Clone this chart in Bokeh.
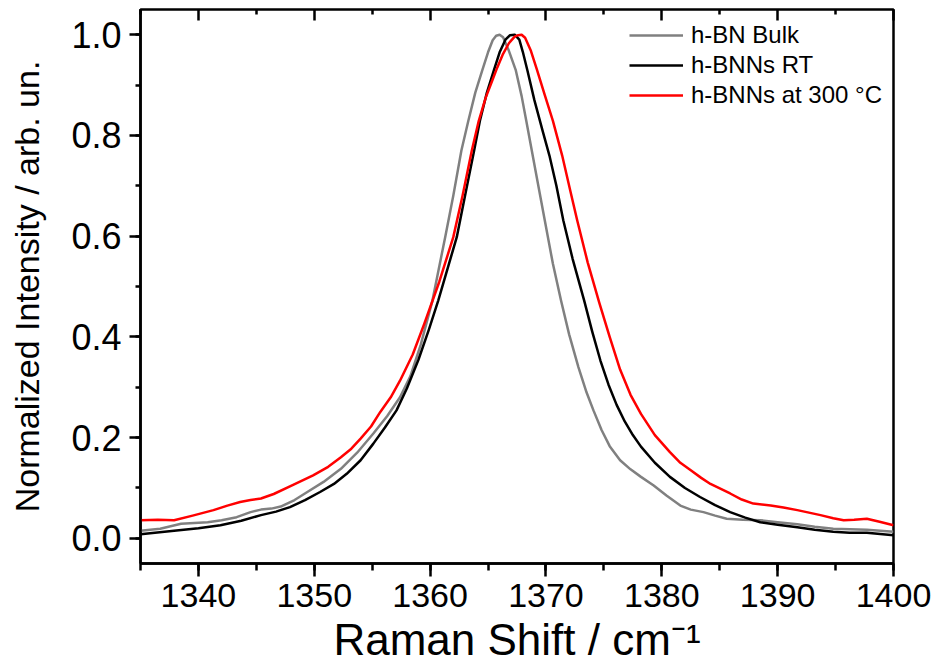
from bokeh.plotting import figure
from bokeh.models import (Range1d, LinearAxis, SingleIntervalTicker, FixedTicker,
                          PrintfTickFormatter, Legend, LegendItem)
from bokeh.embed import file_html
from bokeh.resources import INLINE

# ---------------- data ----------------
bulk_x = [1335.0, 1336.7, 1338.5, 1340.8, 1342.0, 1343.3, 1344.5, 1345.4, 1346.3, 1347.1,
          1348.3, 1349.4, 1350.8, 1352.3, 1353.7, 1355.1, 1356.3, 1357.4, 1358.3, 1359.2,
          1360.2, 1361.3, 1362.0, 1362.7, 1363.3, 1363.9, 1364.5, 1365.0, 1365.4, 1365.7,
          1366.0, 1366.3, 1366.8, 1367.4, 1367.9, 1368.3, 1369.1, 1369.9, 1370.6, 1371.3,
          1372.0, 1372.8, 1373.5, 1374.1, 1374.8, 1375.5, 1376.4, 1377.3, 1378.2, 1379.3,
          1380.4, 1381.6, 1382.5, 1383.6, 1384.6, 1385.6, 1387.0, 1388.5, 1390.0, 1391.7,
          1393.2, 1394.8, 1397.7, 1400.0]
bulk_y = [0.015, 0.019, 0.029, 0.032, 0.036, 0.042, 0.052, 0.057, 0.059, 0.063,
          0.076, 0.092, 0.112, 0.138, 0.170, 0.208, 0.243, 0.280, 0.322, 0.385,
          0.472, 0.598, 0.680, 0.770, 0.829, 0.885, 0.929, 0.965, 0.989, 0.998,
          1.000, 0.995, 0.968, 0.929, 0.878, 0.829, 0.730, 0.631, 0.545, 0.472,
          0.405, 0.340, 0.290, 0.254, 0.215, 0.183, 0.155, 0.137, 0.122, 0.105,
          0.085, 0.065, 0.057, 0.052, 0.045, 0.039, 0.037, 0.036, 0.032, 0.028,
          0.023, 0.019, 0.017, 0.013]

rt_x = [1335.0, 1337.9, 1340.0, 1341.9, 1343.7, 1345.4, 1346.7, 1347.9, 1349.2, 1350.5,
        1351.7, 1352.8, 1354.0, 1355.1, 1356.1, 1357.1, 1358.0, 1359.0, 1359.9, 1360.7,
        1361.5, 1362.3, 1363.1, 1363.8, 1364.3, 1364.9, 1365.5, 1366.0, 1366.5, 1366.9,
        1367.3, 1367.7, 1368.0, 1368.4, 1369.0, 1369.7, 1370.3, 1370.9, 1371.5, 1372.3,
        1373.3, 1374.0, 1374.7, 1375.4, 1376.1, 1376.8, 1377.5, 1378.2, 1379.4, 1380.7,
        1382.0, 1383.3, 1384.6, 1385.9, 1387.2, 1388.5, 1390.0, 1391.7, 1393.2, 1394.8,
        1396.2, 1397.7, 1400.0]
rt_y = [0.008, 0.015, 0.020, 0.026, 0.035, 0.046, 0.053, 0.062, 0.076, 0.092,
        0.108, 0.128, 0.155, 0.188, 0.220, 0.254, 0.298, 0.355, 0.415, 0.472,
        0.535, 0.598, 0.690, 0.770, 0.829, 0.885, 0.929, 0.965, 0.990, 0.999,
        1.000, 0.990, 0.966, 0.929, 0.870, 0.810, 0.760, 0.700, 0.631, 0.555,
        0.472, 0.410, 0.353, 0.305, 0.265, 0.232, 0.205, 0.182, 0.150, 0.122,
        0.100, 0.082, 0.066, 0.052, 0.041, 0.032, 0.027, 0.022, 0.017, 0.013,
        0.011, 0.011, 0.006]

ht_x = [1335.0, 1336.5, 1337.9, 1339.5, 1341.3, 1342.5, 1343.6, 1344.5, 1345.4, 1346.5,
        1347.9, 1349.9, 1351.2, 1352.3, 1353.2, 1354.0, 1354.9, 1355.7, 1356.6, 1357.4,
        1358.5, 1359.5, 1360.8, 1362.0, 1362.8, 1363.6, 1364.2, 1364.8, 1365.3, 1365.8,
        1366.3, 1366.8, 1367.3, 1367.6, 1367.9, 1368.2, 1368.7, 1369.2, 1369.9, 1370.6,
        1371.4, 1372.1, 1372.7, 1373.6, 1374.6, 1375.5, 1376.4, 1377.3, 1378.2, 1379.4,
        1380.7, 1381.6, 1382.5, 1383.4, 1384.2, 1385.9, 1386.9, 1387.9, 1389.4, 1390.5,
        1391.7, 1393.7, 1394.8, 1395.7, 1396.6, 1397.7, 1398.8, 1400.0]
ht_y = [0.036, 0.037, 0.036, 0.045, 0.056, 0.065, 0.072, 0.076, 0.079, 0.088,
        0.103, 0.125, 0.142, 0.161, 0.178, 0.198, 0.222, 0.251, 0.280, 0.313,
        0.365, 0.426, 0.510, 0.598, 0.680, 0.770, 0.829, 0.875, 0.905, 0.935,
        0.962, 0.983, 0.996, 0.999, 1.000, 0.994, 0.968, 0.932, 0.880, 0.829,
        0.760, 0.690, 0.631, 0.548, 0.468, 0.400, 0.335, 0.285, 0.247, 0.205,
        0.171, 0.150, 0.135, 0.120, 0.108, 0.089, 0.077, 0.069, 0.065, 0.061,
        0.056, 0.046, 0.040, 0.036, 0.037, 0.039, 0.033, 0.026]

series_labels = ["h-BN Bulk", "h-BNNs RT", "h-BNNs at 300 \u00b0C"]
series_colors = ["#808080", "#000000", "#ff0000"]

x_major_ticks = [1340, 1350, 1360, 1370, 1380, 1390, 1400]
x_minor_ticks = [1335, 1345, 1355, 1365, 1375, 1385, 1395]

x_title = "Raman Shift / cm\u207b\u00b9"
y_title = "Normalized Intensity / arb. un."

FONT = "Liberation Sans"

# ---------------- figure ----------------
p = figure(width=940, height=666, output_backend="svg", toolbar_location=None,
           x_range=Range1d(1335, 1400), y_range=Range1d(-0.05, 1.05),
           min_border_left=140, min_border_right=47, min_border_top=9, min_border_bottom=0)
p.xgrid.visible = False
p.ygrid.visible = False
p.outline_line_color = "black"
p.outline_line_width = 2.5
p.background_fill_color = "white"
p.border_fill_color = "white"

xt = SingleIntervalTicker(interval=10, num_minor_ticks=2)
yt = SingleIntervalTicker(interval=0.2, num_minor_ticks=2)

xa = p.xaxis[0]
xa.ticker = xt
xa.axis_line_width = 2.5
xa.major_tick_line_width = 2.5
xa.minor_tick_line_width = 2.5
xa.major_tick_out = 13
xa.major_tick_in = 0
xa.minor_tick_out = 7
xa.minor_tick_in = 0
xa.major_label_text_font = FONT
xa.major_label_text_font_size = "34px"
xa.major_label_text_color = "black"
xa.major_label_standoff = 7
xa.axis_label = x_title
xa.axis_label_text_font = FONT
xa.axis_label_text_font_size = "44px"
xa.axis_label_text_font_style = "normal"
xa.axis_label_text_color = "black"
xa.axis_label_standoff = 5

ya = p.yaxis[0]
ya.ticker = yt
ya.formatter = PrintfTickFormatter(format="%.1f")
ya.axis_line_width = 2.5
ya.major_tick_line_width = 2.5
ya.minor_tick_line_width = 2.5
ya.major_tick_out = 11
ya.major_tick_in = 0
ya.minor_tick_out = 5
ya.minor_tick_in = 0
ya.major_label_text_font = FONT
ya.major_label_text_font_size = "36px"
ya.major_label_text_color = "black"
ya.major_label_standoff = 8
ya.axis_label = y_title
ya.axis_label_text_font = FONT
ya.axis_label_text_font_size = "34px"
ya.axis_label_text_font_style = "normal"
ya.axis_label_text_color = "black"
ya.axis_label_standoff = 22

# inward ticks on the top edge (no labels)
for ticks, length in [(x_major_ticks, 11), (x_minor_ticks, 5)]:
    ax = LinearAxis(ticker=FixedTicker(ticks=[], minor_ticks=ticks),
                    axis_line_color=None, major_tick_in=0, major_tick_out=0,
                    minor_tick_in=length, minor_tick_out=0,
                    minor_tick_line_width=2.5, minor_tick_line_color="black")
    p.add_layout(ax, "above")

renderers = []
for xs, ys, c in [(bulk_x, bulk_y, series_colors[0]),
                  (rt_x, rt_y, series_colors[1]),
                  (ht_x, ht_y, series_colors[2])]:
    r = p.line(xs, ys, line_color=c, line_width=2.5, line_join="round")
    renderers.append(r)

legend = Legend(items=[LegendItem(label=lab, renderers=[r])
                       for lab, r in zip(series_labels, renderers)],
                location="top_right", orientation="vertical",
                label_text_font=FONT, label_text_font_size="24px",
                label_text_color="black",
                glyph_width=54, glyph_height=30, label_height=30,
                spacing=0, padding=0, margin=11, label_standoff=8,
                border_line_color=None, background_fill_alpha=0)
p.add_layout(legend)

open("out.html", "w").write(file_html(p, INLINE))
